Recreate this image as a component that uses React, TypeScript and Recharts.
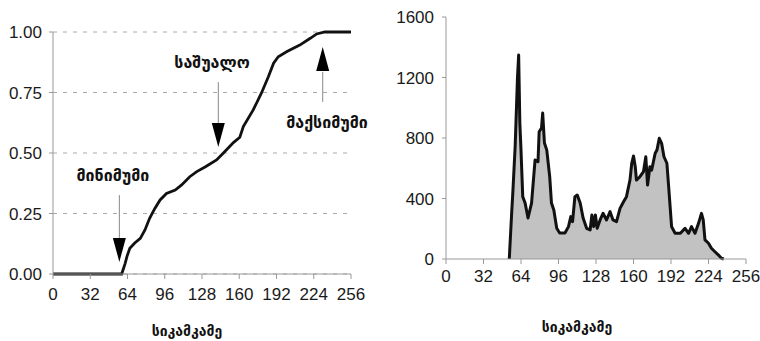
import React from 'react'
import {
  LineChart,
  Line,
  AreaChart,
  Area,
  XAxis,
  YAxis,
  CartesianGrid,
  ReferenceLine,
  ReferenceDot,
} from 'recharts'

// cumulative histogram (left)
const cdfLevels = [0, 59, 62, 63.5, 66, 70, 75, 79, 83, 87.5, 92, 97.5, 105, 110.5, 117.5, 123.5, 131, 140.5, 146, 155, 160.5, 163.5, 172, 179, 185, 189.5, 193.5, 201, 212, 221, 226.5, 233.5, 256]
const cdfValues = [0, 0, 0.044, 0.072, 0.106, 0.127, 0.147, 0.182, 0.23, 0.271, 0.306, 0.333, 0.347, 0.368, 0.402, 0.423, 0.443, 0.471, 0.498, 0.543, 0.565, 0.609, 0.678, 0.747, 0.815, 0.871, 0.898, 0.919, 0.946, 0.974, 0.992, 1, 1]

// histogram (right)
const histLevels = [54, 56, 57, 59, 61, 62, 63, 64, 65.5, 67.5, 70, 73, 75, 76, 78.5, 79.5, 81.5, 82.5, 84, 86, 88.5, 90, 92, 94.5, 97, 101.5, 104.5, 106.5, 108, 110, 112, 114.5, 117, 120, 123, 124.5, 126, 127.5, 129, 131.5, 134, 137, 140, 142.5, 145.5, 148.5, 151.5, 154, 157, 158.5, 160, 161.5, 162.5, 165.5, 168.5, 170.5, 172, 174, 175.5, 178.5, 180, 182, 184, 186, 188.5, 190, 192.5, 195.5, 200, 204, 207, 209.5, 212.5, 215.5, 218, 219.5, 221, 224, 226.5, 229.5, 232.5, 235, 237]
const histCounts = [0, 300, 436, 742, 1200, 1348, 900, 720, 412, 370, 271, 370, 560, 654, 643, 841, 866, 965, 767, 720, 544, 370, 324, 203, 172, 172, 214, 280, 247, 412, 423, 370, 271, 203, 192, 291, 214, 291, 203, 258, 302, 258, 313, 258, 247, 335, 379, 412, 522, 633, 681, 610, 522, 544, 577, 676, 489, 610, 588, 699, 720, 798, 765, 676, 633, 478, 214, 170, 170, 203, 170, 214, 170, 236, 302, 258, 126, 104, 71, 48, 26, 5, 0]

const levelTicks = [0, 32, 64, 96, 128, 160, 192, 224, 256]
const cdfTicks = [0, 0.25, 0.5, 0.75, 1]
const countTicks = [0, 400, 800, 1200, 1600]

const xTitle = 'სიკამკამე'

// annotations on the cumulative chart
const noteTexts = ['მინიმუმი', 'საშუალო', 'მაქსიმუმი']
const noteTextLevels = [51.5, 136.6, 235.4]
const noteTextValues = [0.409, 0.876, 0.624]
const arrowLevels = [57, 142, 231.7]
const arrowTips = [0.05, 0.525, 0.938]
const arrowBases = [0.149, 0.616, 0.835]
const shaftEnds = [0.326, 0.793, 0.711]

const cdfData = cdfLevels.map((level, i) => ({ level, p: cdfValues[i] }))
const histData = histLevels.map((level, i) => ({ level, count: histCounts[i] }))

const tickFont = { fontSize: 17, fill: '#1a1a1a', fontFamily: '"Liberation Sans", Arial, sans-serif' }
const geoFont = '"DejaVu Sans", sans-serif'

const TitleLabel = (dx: number, offset: number) => ({
  value: xTitle,
  position: 'insideBottom' as const,
  offset,
  dx,
  style: { fontSize: 14, fontWeight: 700, fill: '#111', fontFamily: geoFont },
})

export default function App() {
  return (
    <div style={{ position: 'absolute', left: 0, top: 0, width: 760, height: 341, background: '#fff' }}>
      <div style={{ position: 'absolute', left: 0, top: 0 }}>
        <LineChart width={380} height={341} data={cdfData} margin={{ top: 32, right: 29, left: 0, bottom: 0 }}>
          <CartesianGrid vertical={false} stroke="#aaa" strokeDasharray="4 6" />
          <XAxis
            type="number"
            dataKey="level"
            domain={[0, 256]}
            ticks={levelTicks}
            interval={0}
            height={67}
            stroke="#999"
            tickSize={5}
            tickMargin={9}
            tick={tickFont}
            label={TitleLabel(-15, 5)}
          />
          <YAxis
            type="number"
            domain={[0, 1]}
            ticks={cdfTicks}
            width={53}
            stroke="#999"
            tickSize={4}
            tickMargin={7}
            tick={tickFont}
            tickFormatter={(v: number) => v.toFixed(2)}
          />
          {arrowLevels.map((x, i) => (
            <ReferenceLine
              key={`shaft-${i}`}
              segment={[{ x, y: arrowBases[i] }, { x, y: shaftEnds[i] }]}
              stroke="#888"
              strokeWidth={1}
            />
          ))}
          {arrowLevels.map((x, i) => (
            <ReferenceDot
              key={`head-${i}`}
              x={x}
              y={arrowTips[i]}
              shape={(props: any) => {
                const { cx, cy } = props
                const dir = arrowBases[i] > arrowTips[i] ? -1 : 1
                return <polygon points={`${cx},${cy} ${cx - 6.5},${cy + dir * 24} ${cx + 6.5},${cy + dir * 24}`} fill="#000" />
              }}
            />
          ))}
          {noteTexts.map((t, i) => (
            <ReferenceDot
              key={`note-${i}`}
              x={noteTextLevels[i]}
              y={noteTextValues[i]}
              shape={(props: any) => (
                <text
                  x={props.cx}
                  y={props.cy}
                  textAnchor="middle"
                  dominantBaseline="central"
                  fontSize={16}
                  fontWeight={700}
                  fontFamily={geoFont}
                  fill="#111"
                >
                  {t}
                </text>
              )}
            />
          ))}
          <Line
            type="linear"
            dataKey="p"
            stroke="#111"
            strokeWidth={2.8}
            dot={false}
            isAnimationActive={false}
          />
        </LineChart>
      </div>
      <div style={{ position: 'absolute', left: 380, top: 0 }}>
        <AreaChart width={380} height={341} data={histData} margin={{ top: 17, right: 14, left: 0, bottom: 0 }}>
          <XAxis
            type="number"
            dataKey="level"
            domain={[0, 256]}
            ticks={levelTicks}
            interval={0}
            height={82}
            stroke="#999"
            tickSize={5}
            tickMargin={6}
            tick={tickFont}
            label={TitleLabel(-19, 9)}
          />
          <YAxis
            type="number"
            domain={[0, 1600]}
            ticks={countTicks}
            width={66}
            stroke="#999"
            tickSize={4}
            tickMargin={8}
            tick={tickFont}
          />
          <Area
            type="linear"
            dataKey="count"
            stroke="#111"
            strokeWidth={3}
            strokeLinejoin="round"
            fill="#c2c2c2"
            fillOpacity={1}
            isAnimationActive={false}
          />
        </AreaChart>
      </div>
    </div>
  )
}
